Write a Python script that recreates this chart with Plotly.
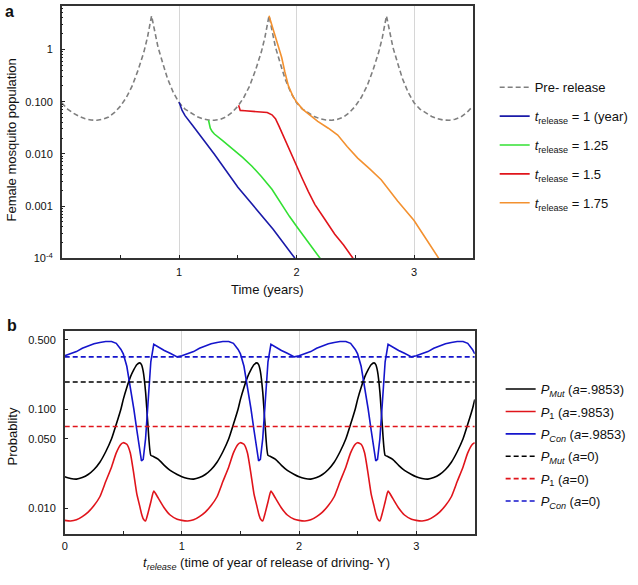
import plotly.graph_objects as go

# ---------------- Panel a data ----------------
pre_t = [0.00, 0.05, 0.10, 0.15, 0.20, 0.25, 0.30, 0.35, 0.40, 0.45, 0.50, 0.55, 0.60, 0.65, 0.70, 0.73, 0.765, 0.79, 0.82, 0.86, 0.90, 0.95,
         1.00, 1.05, 1.10, 1.15, 1.20, 1.25, 1.30, 1.35, 1.40, 1.45, 1.50, 1.55, 1.60, 1.65, 1.70, 1.73, 1.765, 1.79, 1.82, 1.86, 1.90, 1.95,
         2.00, 2.05, 2.10, 2.15, 2.20, 2.25, 2.30, 2.35, 2.40, 2.45, 2.50, 2.55, 2.60, 2.65, 2.70, 2.73, 2.765, 2.79, 2.82, 2.86, 2.90, 2.95,
         3.00, 3.05, 3.10, 3.15, 3.20, 3.25, 3.30, 3.35, 3.40, 3.45, 3.50]
pre_y = [0.095, 0.072, 0.060, 0.052, 0.047, 0.0445, 0.044, 0.046, 0.051, 0.062, 0.082, 0.12, 0.20, 0.40, 0.90, 1.7, 4.4, 2.2, 1.1, 0.55, 0.28, 0.15,
         0.095, 0.072, 0.060, 0.052, 0.047, 0.0445, 0.044, 0.046, 0.051, 0.062, 0.082, 0.12, 0.20, 0.40, 0.90, 1.7, 4.4, 2.2, 1.1, 0.55, 0.28, 0.15,
         0.095, 0.072, 0.060, 0.052, 0.047, 0.0445, 0.044, 0.046, 0.051, 0.062, 0.082, 0.12, 0.20, 0.40, 0.90, 1.7, 4.4, 2.2, 1.1, 0.55, 0.28, 0.15,
         0.095, 0.072, 0.060, 0.052, 0.047, 0.0445, 0.044, 0.046, 0.051, 0.062, 0.082]

rel1_t = [1.0, 1.01, 1.025, 1.05, 1.075, 1.11, 1.3, 1.5, 1.8, 1.986]
rel1_y = [0.097, 0.083, 0.068, 0.054, 0.045, 0.036, 0.0098, 0.0023, 0.00036, 0.0001]

rel125_t = [1.25, 1.258, 1.265, 1.28, 1.30, 1.37, 1.45, 1.54, 1.62, 1.70, 1.79, 1.87, 1.94, 2.01, 2.10, 2.20]
rel125_y = [0.044, 0.036, 0.031, 0.027, 0.024, 0.018, 0.0129, 0.0086, 0.0058, 0.0037, 0.0021, 0.00108, 0.00063, 0.00038, 0.0002, 0.0001]

rel15_t = [1.506, 1.512, 1.52, 1.56, 1.62, 1.70, 1.75, 1.79, 1.82, 1.85, 1.88, 1.92, 1.96, 2.00, 2.05, 2.10, 2.155, 2.24, 2.325, 2.40, 2.48]
rel15_y = [0.085, 0.075, 0.068, 0.067, 0.066, 0.064, 0.062, 0.056, 0.047, 0.034, 0.024, 0.015, 0.0088, 0.0058, 0.0033, 0.0019, 0.00108, 0.00056, 0.00029, 0.00018, 0.0001]

rel175_t = [1.765, 1.79, 1.816, 1.845, 1.873, 1.90, 1.93, 1.97, 2.00, 2.05, 2.10, 2.18, 2.27, 2.35, 2.43, 2.52, 2.62, 2.72, 2.86, 3.00, 3.10, 3.21]
rel175_y = [4.4, 2.9, 1.9, 1.1, 0.70, 0.37, 0.20, 0.125, 0.098, 0.072, 0.058, 0.042, 0.031, 0.023, 0.0138, 0.0083, 0.0052, 0.0032, 0.00125, 0.00053, 0.00024, 0.0001]

# ---------------- Panel b data ----------------
t_rel = [0.00, 0.05, 0.10, 0.15, 0.20, 0.25, 0.30, 0.35, 0.40, 0.44, 0.48, 0.50, 0.53, 0.56, 0.59, 0.615, 0.64, 0.655, 0.67, 0.69, 0.71, 0.735, 0.76, 0.80, 0.85, 0.90, 0.96,
         1.00, 1.05, 1.10, 1.15, 1.20, 1.25, 1.30, 1.35, 1.40, 1.44, 1.48, 1.50, 1.53, 1.56, 1.59, 1.615, 1.64, 1.655, 1.67, 1.69, 1.71, 1.735, 1.76, 1.80, 1.85, 1.90, 1.96,
         2.00, 2.05, 2.10, 2.15, 2.20, 2.25, 2.30, 2.35, 2.40, 2.44, 2.48, 2.50, 2.53, 2.56, 2.59, 2.615, 2.64, 2.655, 2.67, 2.69, 2.71, 2.735, 2.76, 2.80, 2.85, 2.90, 2.96,
         3.00, 3.05, 3.10, 3.15, 3.20, 3.25, 3.30, 3.35, 3.40, 3.44, 3.48, 3.50]
p_mut = [0.0207, 0.0199, 0.0196, 0.0203, 0.0218, 0.0245, 0.029, 0.037, 0.050, 0.070, 0.10, 0.125, 0.165, 0.21, 0.25, 0.28, 0.292, 0.28, 0.24, 0.15, 0.07, 0.034, 0.033, 0.031, 0.027, 0.024, 0.0218,
         0.0207, 0.0199, 0.0196, 0.0203, 0.0218, 0.0245, 0.029, 0.037, 0.050, 0.070, 0.10, 0.125, 0.165, 0.21, 0.25, 0.28, 0.292, 0.28, 0.24, 0.15, 0.07, 0.034, 0.033, 0.031, 0.027, 0.024, 0.0218,
         0.0207, 0.0199, 0.0196, 0.0203, 0.0218, 0.0245, 0.029, 0.037, 0.050, 0.070, 0.10, 0.125, 0.165, 0.21, 0.25, 0.28, 0.292, 0.28, 0.24, 0.15, 0.07, 0.034, 0.033, 0.031, 0.027, 0.024, 0.0218,
         0.0207, 0.0199, 0.0196, 0.0203, 0.0218, 0.0245, 0.029, 0.037, 0.050, 0.070, 0.10, 0.125]
p_one = [0.0075, 0.0074, 0.0076, 0.0082, 0.0091, 0.0106, 0.013, 0.0185, 0.026, 0.036, 0.044, 0.0457, 0.044, 0.036, 0.022, 0.014, 0.0105, 0.0088, 0.0078, 0.0074, 0.0088, 0.0115, 0.0148, 0.0125, 0.0100, 0.0085, 0.0077,
         0.0075, 0.0074, 0.0076, 0.0082, 0.0091, 0.0106, 0.013, 0.0185, 0.026, 0.036, 0.044, 0.0457, 0.044, 0.036, 0.022, 0.014, 0.0105, 0.0088, 0.0078, 0.0074, 0.0088, 0.0115, 0.0148, 0.0125, 0.0100, 0.0085, 0.0077,
         0.0075, 0.0074, 0.0076, 0.0082, 0.0091, 0.0106, 0.013, 0.0185, 0.026, 0.036, 0.044, 0.0457, 0.044, 0.036, 0.022, 0.014, 0.0105, 0.0088, 0.0078, 0.0074, 0.0088, 0.0115, 0.0148, 0.0125, 0.0100, 0.0085, 0.0077,
         0.0075, 0.0074, 0.0076, 0.0082, 0.0091, 0.0106, 0.013, 0.0185, 0.026, 0.036, 0.044, 0.0457]
p_con = [0.345, 0.36, 0.38, 0.41, 0.435, 0.455, 0.47, 0.48, 0.48, 0.46, 0.40, 0.36, 0.27, 0.17, 0.10, 0.062, 0.038, 0.030, 0.031, 0.05, 0.11, 0.30, 0.45, 0.42, 0.39, 0.365, 0.336,
         0.345, 0.36, 0.38, 0.41, 0.435, 0.455, 0.47, 0.48, 0.48, 0.46, 0.40, 0.36, 0.27, 0.17, 0.10, 0.062, 0.038, 0.030, 0.031, 0.05, 0.11, 0.30, 0.45, 0.42, 0.39, 0.365, 0.336,
         0.345, 0.36, 0.38, 0.41, 0.435, 0.455, 0.47, 0.48, 0.48, 0.46, 0.40, 0.36, 0.27, 0.17, 0.10, 0.062, 0.038, 0.030, 0.031, 0.05, 0.11, 0.30, 0.45, 0.42, 0.39, 0.365, 0.336,
         0.345, 0.36, 0.38, 0.41, 0.435, 0.455, 0.47, 0.48, 0.48, 0.46, 0.40, 0.36]
const_t = [0.0, 3.5]
p_mut0 = 0.1875
p_one0 = 0.0665
p_con0 = 0.336

FONT = "Liberation Sans, Arial, sans-serif"
W, H = 638, 585

fig = go.Figure()

def add_a(x, y, name, color, dash=None, group=None):
    fig.add_trace(go.Scatter(x=x, y=y, mode="lines", name=name,
                             line=dict(color=color, width=1.6, dash=dash),
                             xaxis="x", yaxis="y", legend="legend", legendgroup=group))

add_a(pre_t, pre_y, "Pre- release", "#7f7f7f", dash="5px,3px", group="a0")
add_a(rel1_t, rel1_y, "<i>t</i><sub>release</sub> = 1 (year)", "#1a1aa8", group="a1")
add_a(rel125_t, rel125_y, "<i>t</i><sub>release</sub> = 1.25", "#33e033", group="a2")
add_a(rel15_t, rel15_y, "<i>t</i><sub>release</sub> = 1.5", "#e0141b", group="a3")
add_a(rel175_t, rel175_y, "<i>t</i><sub>release</sub> = 1.75", "#f39130", group="a4")

def add_b(x, y, name, color, dash=None, group=None, shape="linear"):
    fig.add_trace(go.Scatter(x=x, y=y, mode="lines", name=name,
                             line=dict(color=color, width=1.6, dash=dash, shape=shape,
                                       smoothing=0.5 if shape == "spline" else None),
                             xaxis="x2", yaxis="y2", legend="legend2", legendgroup=group))

add_b(t_rel, p_mut, "<i>P</i><sub><i>Mut</i></sub> (<i>a</i>=.9853)", "#000000", group="b0", shape="spline")
add_b(t_rel, p_one, "<i>P</i><sub>1</sub> (<i>a</i>=.9853)", "#e0141b", group="b1", shape="spline")
add_b(t_rel, p_con, "<i>P</i><sub><i>Con</i></sub> (<i>a</i>=.9853)", "#1515cc", group="b2")
add_b(const_t, [p_mut0, p_mut0], "<i>P</i><sub><i>Mut</i></sub> (<i>a</i>=0)", "#000000", dash="5px,3px", group="b3")
add_b(const_t, [p_one0, p_one0], "<i>P</i><sub>1</sub> (<i>a</i>=0)", "#e0141b", dash="5px,3px", group="b4")
add_b(const_t, [p_con0, p_con0], "<i>P</i><sub><i>Con</i></sub> (<i>a</i>=0)", "#1515cc", dash="5px,3px", group="b5")

minor_a = [m * 10 ** e for e in range(-4, 1) for m in range(2, 10)]

axis_common = dict(showline=True, mirror=True, linecolor="#333333", linewidth=1.5,
                   ticks="inside", ticklen=4, tickcolor="#222222", tickwidth=1.2,
                   tickfont=dict(size=11, color="#111111", family=FONT), zeroline=False)

fig.update_layout(
    width=W, height=H,
    margin=dict(l=0, r=0, t=0, b=0),
    paper_bgcolor="white", plot_bgcolor="white",
    font=dict(family=FONT, size=13, color="#111111"),
    xaxis=dict(domain=[59 / W, 472 / W], range=[0, 3.5], anchor="y",
               tickvals=[1, 2, 3], ticktext=["1", "2", "3"], ticklabelstandoff=3,
               showgrid=True, gridcolor="#d6d6d6", gridwidth=1,
               minor=dict(tickvals=[0.5, 1.5, 2.5], ticks="inside", ticklen=4, tickcolor="#222222", showgrid=False),
               **axis_common),
    yaxis=dict(domain=[1 - 261 / H, 1 - 6 / H], type="log", range=[-4, 0.833], anchor="x",
               tickvals=[1e-4, 1e-3, 1e-2, 0.1, 1],
               ticktext=["10<sup>-4</sup>", "0.001", "0.010", "0.100", "1"], ticklabelstandoff=5,
               showgrid=False,
               minor=dict(tickvals=minor_a, ticks="inside", ticklen=2, tickcolor="#222222", showgrid=False),
               **axis_common),
    xaxis2=dict(domain=[62 / W, 474 / W], range=[0, 3.5], anchor="y2",
                tickvals=[0, 1, 2, 3], ticktext=["0", "1", "2", "3"], ticklabelstandoff=1,
                showgrid=True, gridcolor="#d6d6d6", gridwidth=1,
                minor=dict(tickvals=[0.5, 1.5, 2.5], ticks="inside", ticklen=4, tickcolor="#222222", showgrid=False),
                **axis_common),
    yaxis2=dict(domain=[1 - 540 / H, 1 - 334 / H], type="log", range=[-2.267, -0.208], anchor="x2",
                tickvals=[0.01, 0.05, 0.1, 0.5], ticktext=["0.010", "0.050", "0.100", "0.500"], ticklabelstandoff=5,
                showgrid=False, **axis_common),
    legend=dict(x=494 / W, y=1 - 73 / H, xanchor="left", yanchor="top",
                font=dict(size=13, family=FONT, color="#111111"),
                bgcolor="rgba(0,0,0,0)", traceorder="grouped", tracegroupgap=9),
    legend2=dict(x=500 / W, y=1 - 378 / H, xanchor="left", yanchor="top",
                 font=dict(size=13, family=FONT, color="#111111"),
                 bgcolor="rgba(0,0,0,0)", traceorder="grouped", tracegroupgap=2.5),
    showlegend=True,
)

ann = [
    dict(text="<b>a</b>", x=7 / W, y=1 - 12 / H, font=dict(size=16)),
    dict(text="<b>b</b>", x=9 / W, y=1 - 329 / H, font=dict(size=16)),
    dict(text="Time (years)", x=265 / W, y=1 - 293 / H, font=dict(size=13)),
    dict(text="Female mosquito population", x=9 / W, y=1 - 141 / H, textangle=-90, font=dict(size=13)),
    dict(text="<i>t</i><sub><i>release</i></sub> (time of year of release of driving- Y)", x=265 / W, y=1 - 569 / H, font=dict(size=13)),
    dict(text="Probablity", x=10 / W, y=1 - 441 / H, textangle=-90, font=dict(size=13)),
]
for a in ann:
    fig.add_annotation(xref="paper", yref="paper", xanchor="center", yanchor="middle",
                       showarrow=False, **a)

fig.write_html("out.html", config={"displayModeBar": False},
               post_script="document.body.style.margin='0';document.body.style.padding='0';")
